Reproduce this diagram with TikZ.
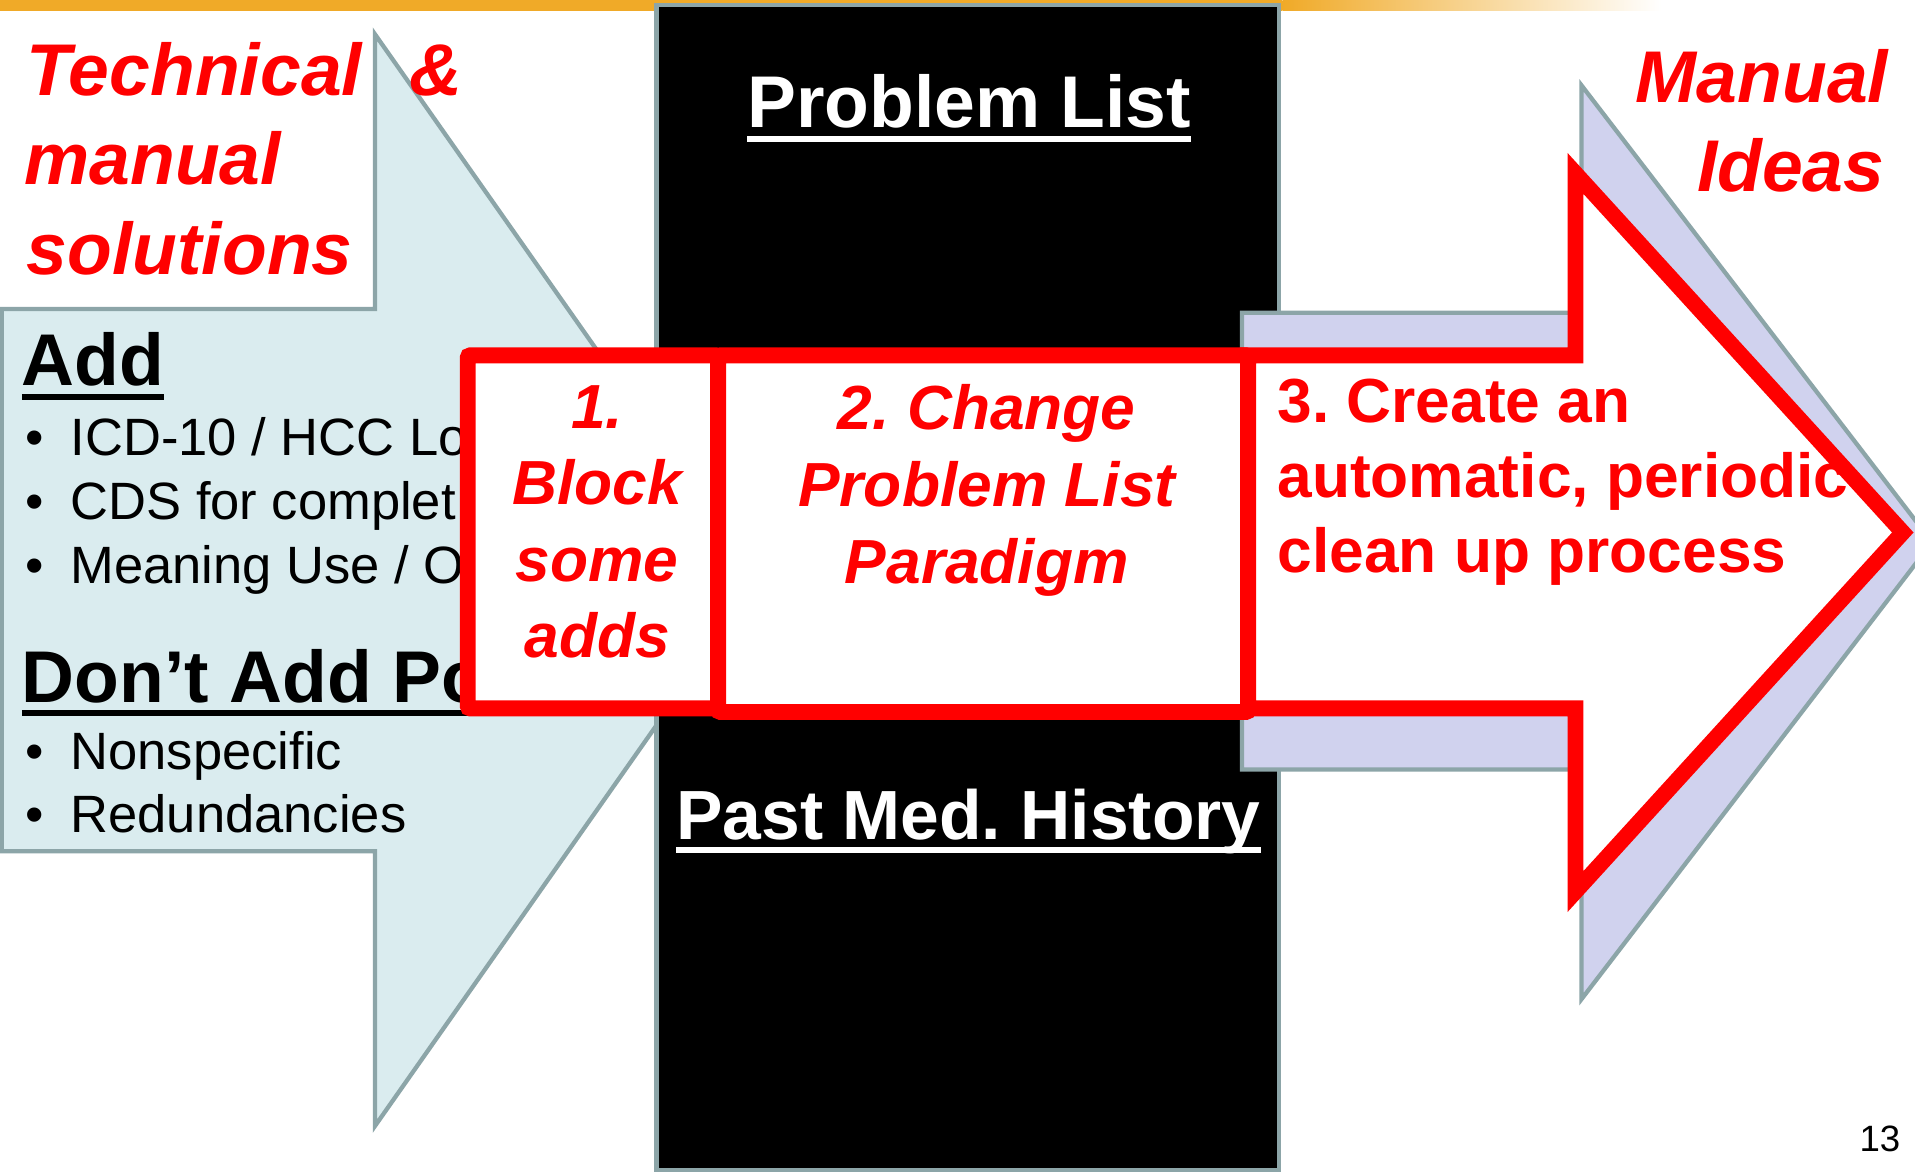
\documentclass[tikz,border=0pt]{standalone}
\usepackage{fontspec}
\setmainfont{Liberation Sans}
\frenchspacing
\definecolor{lblue}{RGB}{218,236,239}
\definecolor{edgegray}{RGB}{140,165,168}
\definecolor{lav}{RGB}{208,210,238}
\definecolor{pptred}{RGB}{255,0,0}
\definecolor{barorange}{RGB}{240,170,40}
\begin{document}
\begin{tikzpicture}[x=1pt,y=-1pt,
  shapeedge/.style={draw=edgegray,line width=3.5,line join=miter},
  redframe/.style={draw=pptred,fill=white,line width=13,line join=miter},
  txt/.style={inner sep=0,outer sep=0},
  redtitle/.style={txt,text=pptred,font=\fontsize{60}{72}\selectfont\bfseries\itshape},
  heading/.style={txt,anchor=base west,font=\fontsize{60}{72}\selectfont\bfseries},
  bullet/.style={txt,anchor=base west,font=\fontsize{43}{52}\selectfont},
  boxtext/.style={txt,anchor=base,text=pptred,font=\fontsize{51}{62}\selectfont\bfseries\itshape},
  stepthree/.style={txt,anchor=base west,text=pptred,font=\fontsize{51}{62}\selectfont\bfseries},
  whitehead/.style={txt,anchor=base,text=white,font=\bfseries},
  ulwhite/.style={draw=white,line width=5},
  ulblack/.style={draw=black,line width=5}
]
\frenchspacing
\useasboundingbox (0,0) rectangle (1568,960);
\fill[white] (0,0) rectangle (1568,960);
% top bar
\fill[barorange] (0,0) rectangle (1050,9);
\shade[left color=barorange,right color=white] (1050,0) rectangle (1360,9);

% left arrow
\path[shapeedge,fill=lblue] (1.5,253) -- (307,253) -- (307,28) -- (621,475) -- (307,922) -- (307,697) -- (1.5,697) -- cycle;

% black column
\path[shapeedge,fill=black] (537.5,4) rectangle (1047.5,958);

% lavender arrow
\path[shapeedge,fill=lav] (1017,256) -- (1295,256) -- (1295,70) -- (1582,444) -- (1295,818) -- (1295,630) -- (1017,630) -- cycle;

% texts in black column
\node[whitehead,font=\fontsize{60}{72}\selectfont\bfseries] (plist) at (793.5,104) {Problem List};
\draw[ulwhite] ([yshift=-9.5pt]plist.base west) -- ([yshift=-9.5pt]plist.base east);
\node[whitehead,font=\fontsize{57}{68}\selectfont\bfseries] (pmh) at (793,687) {Past Med. History};
\draw[ulwhite] ([yshift=-9pt]pmh.base west) -- ([yshift=-9pt]pmh.base east);

% left texts
\node[redtitle,anchor=base west] (tech) at (22,78) {Technical};
\node[redtitle,anchor=base west] (amp) at (335,78) {\&};
\node[redtitle,anchor=base west] (manual) at (20,151) {manual};
\node[redtitle,anchor=base west] (sol) at (22,225) {solutions};

\node[heading] (add) at (18,316) {Add};
\draw[ulblack] ([yshift=-9pt]add.base west) -- ([yshift=-9pt]add.base east);
\node[bullet] (d1) at (21,373) {•};
\node[bullet] (i1) at (57.8,373) {ICD-10 / HCC Lo};
\node[bullet] (d2) at (21,425) {•};
\node[bullet] (i2) at (57.8,425) {CDS for complet};
\node[bullet] (d3) at (21,478) {•};
\node[bullet] (i3) at (57.8,478) {Meaning Use / O};

\node[heading] (dont) at (18,575) {Don’t Add Po};
\draw[ulblack] ([yshift=-9pt]dont.base west) -- ([yshift=-9pt]dont.base east);
\node[bullet] (d4) at (21,630) {•};
\node[bullet] (i4) at (57.8,630) {Nonspecific};
\node[bullet] (d5) at (21,682) {•};
\node[bullet] (i5) at (57.8,682) {Redundancies};

% red frames
\path[redframe,rounded corners=2] (383,291) rectangle (588,580);
\path[redframe,rounded corners=2] (588,291) rectangle (1022,583);
\path[redframe] (1022,291) -- (1290,291) -- (1290,142) -- (1558,436) -- (1290,730) -- (1290,580) -- (1022,580) -- cycle;

% box texts
\node[boxtext] (s1a) at (489,351) {1.};
\node[boxtext] (s1b) at (489,413) {Block};
\node[boxtext] (s1c) at (489,476) {some};
\node[boxtext] (s1d) at (489,538) {adds};

\node[boxtext] (s2a) at (808,352) {2. Change};
\node[boxtext] (s2b) at (808,415) {Problem List};
\node[boxtext] (s2c) at (808,478) {Paradigm};

\node[stepthree] (s3a) at (1046,346) {3. Create an};
\node[stepthree] (s3b) at (1046,407) {automatic, periodic};
\node[stepthree] (s3c) at (1046,469) {clean up process};

% manual ideas
\node[redtitle,anchor=base east] (man) at (1546,84) {Manual};
\node[redtitle,anchor=base east] (ideas) at (1543,157) {Ideas};

% page number
\node[txt,anchor=base east,font=\fontsize{30}{36}\selectfont] (pg) at (1556,943) {13};
\end{tikzpicture}
\end{document}
